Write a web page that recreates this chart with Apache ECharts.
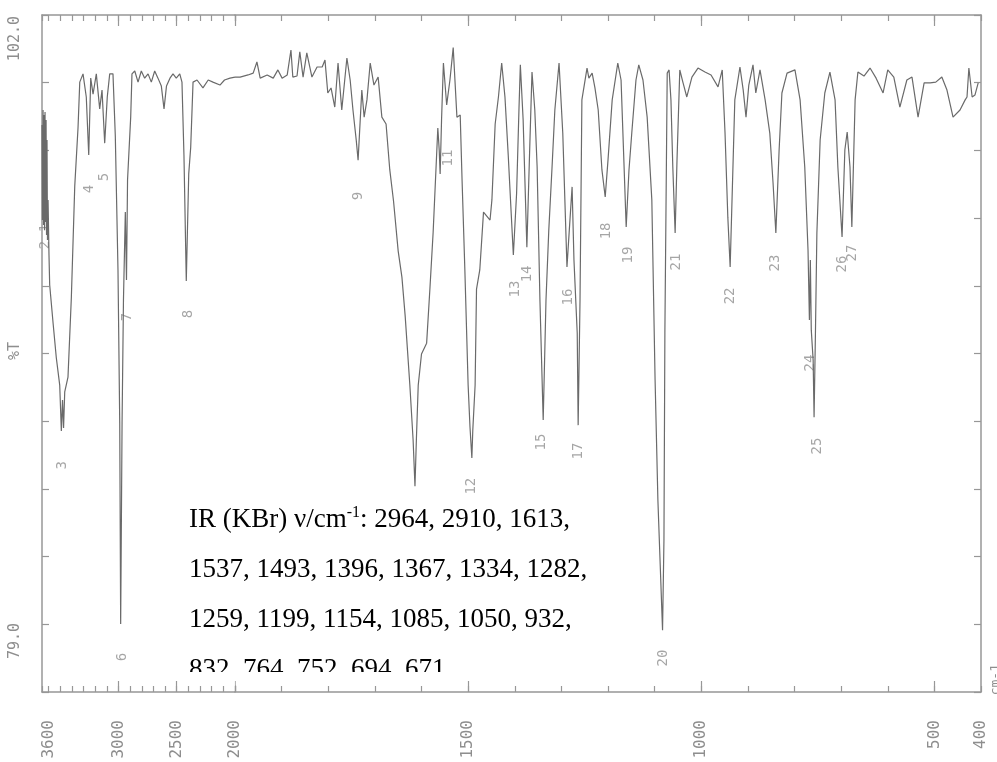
<!DOCTYPE html>
<html>
<head>
<meta charset="utf-8">
<title>IR (KBr)</title>
<script src="https://cdn.jsdelivr.net/npm/echarts@6/dist/echarts.min.js"></script>
<style>
  html, body { margin: 0; padding: 0; background: #fff; }
  #chart { width: 997px; height: 762px; }
</style>
</head>
<body>
<div id="chart"></div>
<script>
// trace: [wavenumber cm-1, %T]
// 3656..2000 is drawn on the compressed (1/4) scale
const highRange = [
  [3656, 97.85], [3652, 94.27], [3647, 98.42], [3643, 94.08], [3639, 98.23], [3634, 93.89],
  [3630, 98.34], [3626, 94.20], [3621, 98.04], [3617, 93.71], [3613, 97.29], [3609, 93.52],
  [3604, 95.03], [3596, 92.95], [3590, 91.82], [3561, 90.39], [3533, 89.07], [3504, 88.05],
  [3490, 86.32], [3480, 87.49], [3471, 86.43], [3461, 87.79], [3433, 88.35], [3404, 91.37],
  [3375, 95.55], [3347, 97.74], [3332, 99.47], [3304, 99.78], [3276, 98.91], [3255, 96.72],
  [3238, 99.62], [3218, 99.02], [3190, 99.78], [3161, 98.46], [3141, 99.17], [3118, 97.17],
  [3096, 98.91], [3075, 99.78], [3047, 99.78], [3027, 97.44], [3004, 92.39], [2989, 86.62],
  [2981, 79.04], [2969, 86.62], [2957, 91.26], [2948, 93.14], [2941, 94.57], [2931, 92.01],
  [2922, 95.78], [2895, 98.15], [2884, 99.78], [2860, 99.89], [2832, 99.47], [2804, 99.89],
  [2775, 99.62], [2746, 99.78], [2718, 99.47], [2689, 99.89], [2661, 99.62], [2632, 99.32],
  [2609, 98.46], [2588, 99.32], [2558, 99.62], [2532, 99.78], [2504, 99.62], [2474, 99.78],
  [2455, 99.47], [2438, 96.72], [2418, 91.97], [2397, 96.01], [2380, 97.02], [2360, 99.47],
  [2326, 99.55], [2275, 99.25], [2230, 99.55], [2189, 99.47], [2129, 99.36], [2090, 99.55],
  [2043, 99.62], [2000, 99.66]
];

// 2000..400 on the expanded scale
const lowRange = [
  [2000, 99.66], [1989, 99.66], [1972, 99.74], [1961, 99.81], [1953, 100.23], [1946, 99.62],
  [1931, 99.74], [1918, 99.62], [1908, 99.93], [1899, 99.62], [1888, 99.74], [1880, 100.68],
  [1876, 99.66], [1867, 99.70], [1861, 100.61], [1854, 99.66], [1846, 100.57], [1835, 99.66],
  [1824, 100.04], [1813, 100.04], [1807, 100.30], [1801, 99.06], [1794, 99.25], [1786, 98.53],
  [1779, 100.19], [1771, 98.42], [1760, 100.38], [1753, 99.55], [1747, 98.42], [1740, 97.29],
  [1736, 96.53], [1728, 99.17], [1723, 98.15], [1717, 98.80], [1710, 100.19], [1702, 99.36],
  [1693, 99.66], [1685, 98.15], [1676, 97.89], [1668, 96.16], [1660, 94.99], [1650, 93.10],
  [1642, 92.12], [1635, 90.65], [1625, 88.05], [1618, 85.98], [1614, 84.24], [1611, 85.98],
  [1607, 88.05], [1600, 89.22], [1589, 89.63], [1582, 91.67], [1575, 93.82], [1565, 97.74],
  [1562, 96.91], [1560, 96.01], [1557, 98.04], [1553, 100.19], [1546, 98.61], [1539, 99.55],
  [1532, 100.77], [1524, 98.15], [1517, 98.23], [1513, 95.78], [1507, 92.39], [1500, 88.05],
  [1496, 86.47], [1492, 85.30], [1490, 86.35], [1485, 88.05], [1482, 91.67], [1475, 92.39],
  [1467, 94.57], [1460, 94.42], [1453, 94.27], [1449, 95.03], [1442, 97.89], [1435, 98.91],
  [1428, 100.19], [1421, 98.91], [1414, 96.72], [1408, 94.65], [1403, 92.95], [1396, 95.29],
  [1391, 98.42], [1388, 100.12], [1382, 98.04], [1374, 93.25], [1368, 96.91], [1363, 99.85],
  [1357, 98.42], [1352, 96.27], [1346, 91.26], [1339, 86.73], [1333, 91.26], [1327, 93.89],
  [1320, 96.27], [1314, 98.42], [1305, 100.19], [1297, 97.55], [1288, 92.50], [1283, 93.89],
  [1277, 95.52], [1273, 92.76], [1266, 90.01], [1264, 86.54], [1260, 91.26], [1256, 98.80],
  [1245, 100.00], [1241, 99.62], [1234, 99.81], [1228, 99.25], [1221, 98.42], [1213, 96.16],
  [1206, 95.14], [1200, 96.53], [1191, 98.80], [1179, 100.19], [1172, 99.55], [1166, 96.53],
  [1161, 94.01], [1155, 96.16], [1149, 97.55], [1140, 99.55], [1134, 100.12], [1125, 99.55],
  [1116, 98.15], [1106, 95.03], [1099, 88.24], [1093, 83.72], [1083, 78.81], [1080, 82.21],
  [1078, 90.01], [1073, 99.81], [1069, 99.93], [1065, 98.80], [1061, 96.27], [1056, 93.78],
  [1052, 96.53], [1046, 99.93], [1039, 99.44], [1031, 98.91], [1020, 99.66], [1007, 100.00],
  [992, 99.85], [979, 99.74], [964, 99.29], [955, 99.93], [949, 97.55], [943, 94.38],
  [938, 92.50], [934, 95.03], [928, 98.80], [917, 100.04], [910, 99.17], [904, 98.15],
  [898, 99.36], [889, 100.12], [883, 99.06], [874, 99.93], [863, 98.80], [853, 97.55],
  [846, 95.67], [840, 93.78], [833, 96.91], [827, 99.06], [816, 99.81], [799, 99.93],
  [788, 98.80], [778, 96.27], [771, 93.14], [768, 90.50], [766, 92.76], [764, 90.12],
  [760, 88.99], [758, 86.84], [755, 90.12], [752, 93.78], [745, 97.29], [735, 99.06],
  [724, 99.85], [713, 98.80], [707, 96.27], [698, 93.63], [692, 96.91], [687, 97.59],
  [681, 96.27], [677, 94.01], [670, 98.80], [664, 99.85], [651, 99.70], [638, 100.00],
  [625, 99.62], [610, 99.06], [600, 99.93], [587, 99.66], [574, 98.53], [559, 99.55],
  [548, 99.66], [535, 98.15], [522, 99.44], [509, 99.44], [497, 99.47], [484, 99.66],
  [473, 99.17], [460, 98.15], [445, 98.42], [434, 98.80], [430, 98.91], [426, 100.00],
  [419, 98.91], [413, 98.98], [406, 99.44]
];

// peak numbers printed on the scan: [wavenumber, %T, label]
const peaksHigh = [
  [3630, 93.97, '1'], [3630, 93.33, '2'], [3484, 85.03, '3'], [3253, 95.44, '4'],
  [3124, 95.89, '5'], [2969, 77.80, '6'], [2927, 90.61, '7'], [2403, 90.73, '8']
];
const peaksLow = [
  [1736, 95.18, '9'], [1543, 96.61, '11'], [1492, 84.24, '12'], [1399, 91.67, '13'],
  [1374, 92.24, '14'], [1342, 85.90, '15'], [1284, 91.37, '16'], [1264, 85.56, '17'],
  [1204, 93.86, '18'], [1157, 92.95, '19'], [1082, 77.76, '20'], [1054, 92.69, '21'],
  [938, 91.41, '22'], [840, 92.65, '23'], [765, 88.88, '24'], [752, 85.75, '25'],
  [698, 92.61, '26'], [675, 93.03, '27']
];

const labelsHigh = [3600, 3000, 2500, 2000];
const labelsLow = [1500, 1000, 500, 400];
const majorHigh = [3000, 2500, 2000];
const majorLow = [1500, 1000, 500];

const irLines = [
  '{a|IR (KBr) ν/cm}{s|-1}{a|: 2964, 2910, 1613,}',
  '{a|1537, 1493, 1396, 1367, 1334, 1282,}',
  '{a|1259, 1199, 1154, 1085, 1050, 932,}',
  '{a|832, 764, 752, 694, 671}'
];

const frameColor = '#979797';
const textGrey = '#8e8e8e';
const traceColor = '#6a6a6a';
const mono = 'DejaVu Sans Mono';
const tMin = 76.48, tMax = 102;

const chart = echarts.init(document.getElementById('chart'));

function xAxis(grid, min, max, pos, major, labels) {
  const a = {
    type: 'value', gridIndex: grid, position: pos, min: min, max: max, inverse: true,
    interval: 100,
    splitLine: { show: false },
    axisLine: { show: !!major, lineStyle: { color: frameColor, width: 1.5 } },
    axisTick: { show: true, inside: true, length: major ? 11 : 6,
      lineStyle: { color: frameColor, width: 1.2 } },
    axisLabel: { show: false }
  };
  if (major) a.axisTick.customValues = major;
  if (labels) {
    a.axisLabel = { show: true, customValues: labels, rotate: 90, margin: 28,
      color: textGrey, fontSize: 16, fontFamily: mono, formatter: v => String(v) };
  }
  return a;
}

function tickAxis(grid, pos) {
  return {
    type: 'value', gridIndex: grid, position: pos, min: 0, max: 10, interval: 1,
    axisLine: { show: true, lineStyle: { color: frameColor, width: 1.5 } },
    axisTick: { show: true, inside: true, length: 7, lineStyle: { color: frameColor, width: 1.2 } },
    axisLabel: { show: false },
    splitLine: { show: false }
  };
}

function peakSeries(xi, yi, data) {
  return {
    type: 'scatter', xAxisIndex: xi, yAxisIndex: yi, data: data, symbolSize: 1,
    itemStyle: { color: 'rgba(0,0,0,0)' }, silent: true,
    label: { show: true, position: 'inside', rotate: 90, formatter: p => p.value[2],
      color: textGrey, fontSize: 14, fontFamily: mono }
  };
}

function sideText(text, x, y, size) {
  return { type: 'text', x: x, y: y, rotation: Math.PI / 2, z: 10,
    style: { text: text, fill: textGrey, font: (size || 15) + 'px "DejaVu Sans Mono"',
      align: 'right', verticalAlign: 'middle', textAlign: 'right', textVerticalAlign: 'middle' } };
}

const graphics = [
  sideText('102.0', 15, 16),
  sideText('%T', 15, 342),
  sideText('79.0', 15, 623),
  sideText('cm-1', 996, 664, 13)
];
irLines.forEach((line, i) => {
  graphics.push({ type: 'text', x: 189, y: 520 + i * 50, z: 10,
    style: { text: line, verticalAlign: 'middle', textVerticalAlign: 'middle',
      rich: {
        a: { fontFamily: 'Liberation Serif', fontSize: 27, color: '#000', lineHeight: 30 },
        s: { fontFamily: 'Liberation Serif', fontSize: 16, color: '#000', lineHeight: 16,
          verticalAlign: 'top' }
      } } });
});
// the scan cuts the last text line off just above the axis (gap left for the 2000 tick)
graphics.push({ type: 'rect', z: 20, shape: { x: 184, y: 672, width: 50.3, height: 13.5 },
  style: { fill: '#fff' } });
graphics.push({ type: 'rect', z: 20, shape: { x: 235.7, y: 672, width: 228, height: 13.5 },
  style: { fill: '#fff' } });
graphics.push({ type: 'rect', z: 20, shape: { x: 234, y: 672, width: 2, height: 8 },
  style: { fill: '#fff' } });

chart.setOption({
  animation: false,
  backgroundColor: '#fff',
  grid: [
    { left: 42, top: 15, width: 193, height: 677, outerBoundsMode: 'none' },
    { left: 235, top: 15, width: 746, height: 677, outerBoundsMode: 'none' }
  ],
  xAxis: [
    xAxis(0, 2000, 3656, 'bottom', majorHigh, labelsHigh),
    xAxis(0, 2000, 3656, 'bottom', null, null),
    xAxis(0, 2000, 3656, 'top', majorHigh, null),
    xAxis(0, 2000, 3656, 'top', null, null),
    xAxis(1, 400, 2000, 'bottom', majorLow, labelsLow),
    xAxis(1, 400, 2000, 'bottom', null, null),
    xAxis(1, 400, 2000, 'top', majorLow, null),
    xAxis(1, 400, 2000, 'top', null, null)
  ],
  yAxis: [
    { type: 'value', gridIndex: 0, min: tMin, max: tMax, show: false },
    tickAxis(0, 'left'),
    { type: 'value', gridIndex: 1, min: tMin, max: tMax, show: false },
    tickAxis(1, 'right')
  ],
  series: [
    { type: 'line', xAxisIndex: 0, yAxisIndex: 0, data: highRange, symbol: 'none',
      lineStyle: { color: traceColor, width: 1.2 }, silent: true },
    { type: 'line', xAxisIndex: 4, yAxisIndex: 2, data: lowRange, symbol: 'none',
      lineStyle: { color: traceColor, width: 1.2 }, silent: true },
    peakSeries(0, 0, peaksHigh),
    peakSeries(4, 2, peaksLow)
  ],
  graphic: graphics
});
</script>
</body>
</html>
